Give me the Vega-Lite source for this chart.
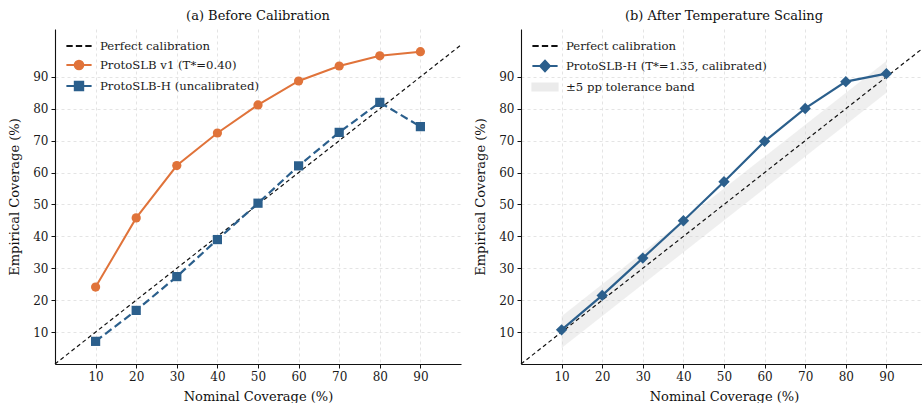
{
  "$schema": "https://vega.github.io/schema/vega-lite/v6.json",
  "background": "white",
  "padding": {"left": 8, "top": 10, "right": 0, "bottom": 0},
  "bounds": "flush",
  "spacing": 60,
  "datasets": {
    "a": [
      {"series": "Perfect calibration", "nominal": 0, "empirical": 0},
      {"series": "Perfect calibration", "nominal": 100, "empirical": 100},
      {"series": "ProtoSLB v1 (T*=0.40)", "nominal": 10, "empirical": 24.1},
      {"series": "ProtoSLB v1 (T*=0.40)", "nominal": 20, "empirical": 45.8},
      {"series": "ProtoSLB v1 (T*=0.40)", "nominal": 30, "empirical": 62.2},
      {"series": "ProtoSLB v1 (T*=0.40)", "nominal": 40, "empirical": 72.4},
      {"series": "ProtoSLB v1 (T*=0.40)", "nominal": 50, "empirical": 81.2},
      {"series": "ProtoSLB v1 (T*=0.40)", "nominal": 60, "empirical": 88.7},
      {"series": "ProtoSLB v1 (T*=0.40)", "nominal": 70, "empirical": 93.4},
      {"series": "ProtoSLB v1 (T*=0.40)", "nominal": 80, "empirical": 96.6},
      {"series": "ProtoSLB v1 (T*=0.40)", "nominal": 90, "empirical": 97.9},
      {"series": "ProtoSLB-H (uncalibrated)", "nominal": 10, "empirical": 7.1},
      {"series": "ProtoSLB-H (uncalibrated)", "nominal": 20, "empirical": 16.8},
      {"series": "ProtoSLB-H (uncalibrated)", "nominal": 30, "empirical": 27.4},
      {"series": "ProtoSLB-H (uncalibrated)", "nominal": 40, "empirical": 39.0},
      {"series": "ProtoSLB-H (uncalibrated)", "nominal": 50, "empirical": 50.4},
      {"series": "ProtoSLB-H (uncalibrated)", "nominal": 60, "empirical": 62.1},
      {"series": "ProtoSLB-H (uncalibrated)", "nominal": 70, "empirical": 72.6},
      {"series": "ProtoSLB-H (uncalibrated)", "nominal": 80, "empirical": 82.0},
      {"series": "ProtoSLB-H (uncalibrated)", "nominal": 90, "empirical": 74.4}
    ],
    "b": [
      {"series": "Perfect calibration", "nominal": 0, "empirical": 0},
      {"series": "Perfect calibration", "nominal": 100, "empirical": 100},
      {"series": "ProtoSLB-H (T*=1.35, calibrated)", "nominal": 10, "empirical": 10.7},
      {"series": "ProtoSLB-H (T*=1.35, calibrated)", "nominal": 20, "empirical": 21.5},
      {"series": "ProtoSLB-H (T*=1.35, calibrated)", "nominal": 30, "empirical": 33.2},
      {"series": "ProtoSLB-H (T*=1.35, calibrated)", "nominal": 40, "empirical": 44.9},
      {"series": "ProtoSLB-H (T*=1.35, calibrated)", "nominal": 50, "empirical": 57.1},
      {"series": "ProtoSLB-H (T*=1.35, calibrated)", "nominal": 60, "empirical": 69.8},
      {"series": "ProtoSLB-H (T*=1.35, calibrated)", "nominal": 70, "empirical": 80.1},
      {"series": "ProtoSLB-H (T*=1.35, calibrated)", "nominal": 80, "empirical": 88.5},
      {"series": "ProtoSLB-H (T*=1.35, calibrated)", "nominal": 90, "empirical": 91.0},
      {"series": "±5 pp tolerance band", "nominal": 10, "lo": 5, "hi": 15},
      {"series": "±5 pp tolerance band", "nominal": 90, "lo": 85, "hi": 95}
    ]
  },
  "hconcat": [
    {
      "width": 406,
      "height": 335,
      "title": "(a) Before Calibration",
      "data": {"name": "a"},
      "encoding": {
        "x": {"field": "nominal", "type": "quantitative", "scale": {"domain": [0, 100], "nice": false}, "axis": {"values": [10, 20, 30, 40, 50, 60, 70, 80, 90], "title": "Nominal Coverage (%)"}},
        "y": {"field": "empirical", "type": "quantitative", "scale": {"domain": [0, 105], "nice": false}, "axis": {"values": [10, 20, 30, 40, 50, 60, 70, 80, 90], "title": "Empirical Coverage (%)"}}
      },
      "layer": [
        {"transform": [{"filter": "datum.series === 'Perfect calibration'"}], "mark": {"type": "line", "color": "#111111", "strokeWidth": 1.2, "strokeDash": [4, 3]}},
        {"transform": [{"filter": "datum.series === 'ProtoSLB v1 (T*=0.40)'"}], "mark": {"type": "line", "color": "#E0733A", "strokeWidth": 2}},
        {"transform": [{"filter": "datum.series === 'ProtoSLB v1 (T*=0.40)'"}], "mark": {"type": "point", "shape": "circle", "filled": true, "opacity": 1, "color": "#E0733A", "size": 85}},
        {"transform": [{"filter": "datum.series === 'ProtoSLB-H (uncalibrated)'"}], "mark": {"type": "line", "color": "#2B5F8C", "strokeWidth": 2.2, "strokeDash": [8, 4]}},
        {"transform": [{"filter": "datum.series === 'ProtoSLB-H (uncalibrated)'"}], "mark": {"type": "point", "shape": "square", "filled": true, "opacity": 1, "color": "#2B5F8C", "size": 85}},
        {
          "mark": {"type": "point", "filled": true, "opacity": 0},
          "encoding": {
            "shape": {"field": "series", "type": "nominal", "scale": {"domain": ["Perfect calibration", "ProtoSLB v1 (T*=0.40)", "ProtoSLB-H (uncalibrated)"], "range": ["M-1.8,0H-0.9M-0.45,0H0.45M0.9,0H1.8", "M-1.8,0H1.8M-0.62,0A0.62,0.62 0 1,0 0.62,0A0.62,0.62 0 1,0 -0.62,0Z", "M-1.8,0H1.8M-0.6,-0.6H0.6V0.6H-0.6Z"]}, "legend": {"title": null}},
            "fill": {"field": "series", "type": "nominal", "scale": {"domain": ["Perfect calibration", "ProtoSLB v1 (T*=0.40)", "ProtoSLB-H (uncalibrated)"], "range": ["#111111", "#E0733A", "#2B5F8C"]}, "legend": {"title": null}},
            "stroke": {"field": "series", "type": "nominal", "scale": {"domain": ["Perfect calibration", "ProtoSLB v1 (T*=0.40)", "ProtoSLB-H (uncalibrated)"], "range": ["#111111", "#E0733A", "#2B5F8C"]}, "legend": {"title": null}}
          }
        }
      ]
    },
    {
      "width": 406,
      "height": 335,
      "title": "(b) After Temperature Scaling",
      "data": {"name": "b"},
      "encoding": {
        "x": {"field": "nominal", "type": "quantitative", "scale": {"domain": [0, 100], "nice": false}, "axis": {"values": [10, 20, 30, 40, 50, 60, 70, 80, 90], "title": "Nominal Coverage (%)"}}
      },
      "layer": [
        {"transform": [{"filter": "datum.series === '±5 pp tolerance band'"}], "mark": {"type": "area", "color": "#d4d4d4", "opacity": 0.36},
          "encoding": {"y": {"field": "lo", "type": "quantitative", "scale": {"domain": [0, 105], "nice": false}, "axis": {"values": [10, 20, 30, 40, 50, 60, 70, 80, 90], "title": "Empirical Coverage (%)"}}, "y2": {"field": "hi"}}},
        {"transform": [{"filter": "datum.series === 'Perfect calibration'"}], "mark": {"type": "line", "color": "#111111", "strokeWidth": 1.2, "strokeDash": [4, 3]}, "encoding": {"y": {"field": "empirical", "type": "quantitative"}}},
        {"transform": [{"filter": "datum.series === 'ProtoSLB-H (T*=1.35, calibrated)'"}], "mark": {"type": "line", "color": "#2B5F8C", "strokeWidth": 2.2}, "encoding": {"y": {"field": "empirical", "type": "quantitative"}}},
        {"transform": [{"filter": "datum.series === 'ProtoSLB-H (T*=1.35, calibrated)'"}], "mark": {"type": "point", "shape": "diamond", "filled": true, "opacity": 1, "color": "#2B5F8C", "size": 130}, "encoding": {"y": {"field": "empirical", "type": "quantitative"}}},
        {
          "mark": {"type": "point", "filled": true, "opacity": 0},
          "encoding": {
            "y": {"field": "empirical", "type": "quantitative"},
            "shape": {"field": "series", "type": "nominal", "scale": {"domain": ["Perfect calibration", "ProtoSLB-H (T*=1.35, calibrated)", "±5 pp tolerance band"], "range": ["M-1.8,0H-0.9M-0.45,0H0.45M0.9,0H1.8", "M-1.8,0H1.8M0,-0.75L0.7,0L0,0.75L-0.7,0Z", "M-1.8,-0.5H1.8V0.5H-1.8Z"]}, "legend": {"title": null}},
            "fill": {"field": "series", "type": "nominal", "scale": {"domain": ["Perfect calibration", "ProtoSLB-H (T*=1.35, calibrated)", "±5 pp tolerance band"], "range": ["#111111", "#2B5F8C", "#ebebeb"]}, "legend": {"title": null}},
            "stroke": {"field": "series", "type": "nominal", "scale": {"domain": ["Perfect calibration", "ProtoSLB-H (T*=1.35, calibrated)", "±5 pp tolerance band"], "range": ["#111111", "#2B5F8C", "#ebebeb"]}, "legend": {"title": null}}
          }
        }
      ]
    }
  ],
  "resolve": {"scale": {"shape": "independent", "fill": "independent", "stroke": "independent", "y": "independent", "x": "independent"}, "legend": {"shape": "independent", "fill": "independent", "stroke": "independent"}},
  "config": {
    "font": "DejaVu Serif",
    "view": {"stroke": null},
    "title": {"font": "DejaVu Serif", "fontSize": 13, "fontWeight": "normal", "color": "#111111", "offset": 6},
    "axis": {
      "labelFont": "DejaVu Serif", "labelFontSize": 12, "labelColor": "#1a1a1a",
      "titleFont": "DejaVu Serif", "titleFontSize": 13, "titleFontWeight": "normal", "titleColor": "#111111",
      "domainColor": "#111111", "domainWidth": 1.1, "tickColor": "#111111", "tickSize": 4, "labelPadding": 3,
      "gridColor": "#dddddd", "gridDash": [3, 3], "gridWidth": 0.8
    },
    "axisY": {"titlePadding": 11},
    "axisX": {"titlePadding": 8},
    "legend": {
      "orient": "none", "legendX": 16, "legendY": 9,
      "labelFont": "DejaVu Serif", "labelFontSize": 11.7, "labelColor": "#1a1a1a", "labelLimit": 400,
      "symbolSize": 196, "symbolOpacity": 1, "symbolStrokeWidth": 2, "labelOffset": 13, "rowPadding": 3, "padding": 0
    }
  }
}
